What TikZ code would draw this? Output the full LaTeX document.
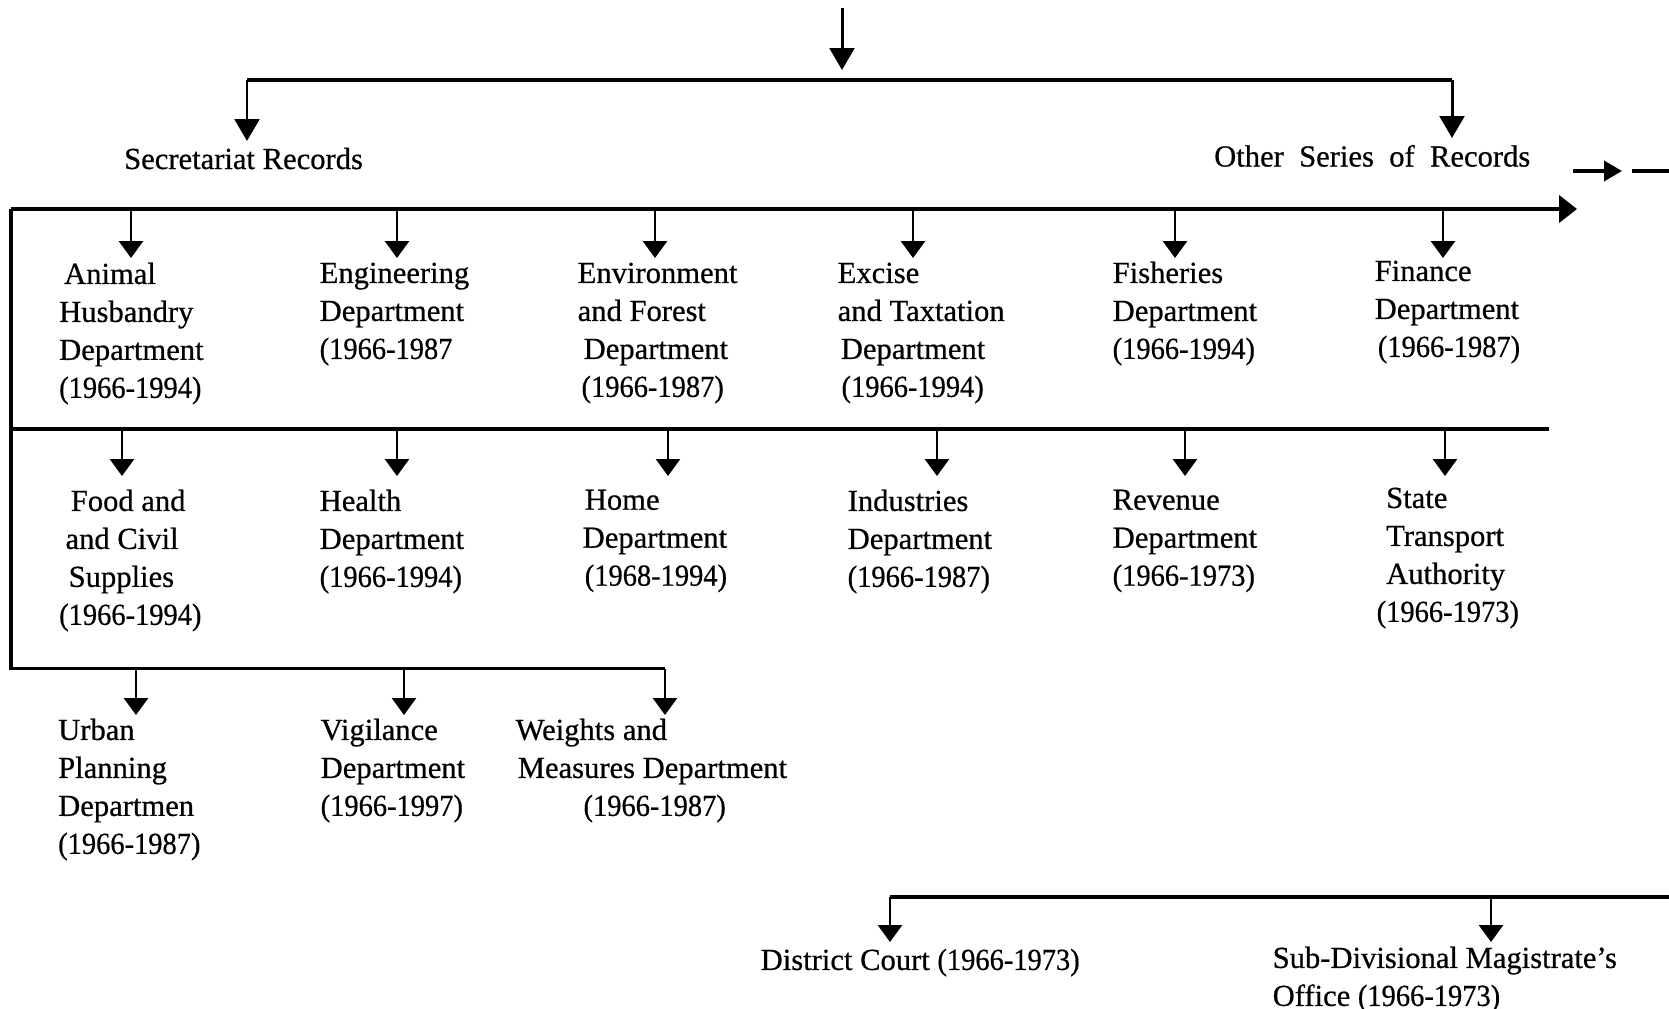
\documentclass[tikz,border=0pt]{standalone}
\usepackage{fontspec}
\setmainfont{Liberation Serif}[FakeBold=0.6]
\usetikzlibrary{arrows.meta}
\newcommand{\yr}[1]{\scalebox{0.93}[1]{#1}}
\begin{document}
\begin{tikzpicture}[x=0.01cm,y=-0.01cm,
  lbl/.style={inner sep=0pt, anchor=north west, align=left, font=\fontsize{8.7}{10.8}\selectfont},
  one/.style={inner sep=0pt, anchor=base west, font=\fontsize{8.7}{10.8}\selectfont},
  bus/.style={line width=1pt},
  drop/.style={line width=0.75pt, -{Triangle[length=4.8pt,width=6.8pt]}},
  bigdrop/.style={line width=0.85pt, -{Triangle[length=6.2pt,width=7pt]}},
  busarrow/.style={line width=1pt, -{Triangle[length=5.1pt,width=7.7pt]}},
  smallarrow/.style={line width=1pt, -{Triangle[length=5.1pt,width=5.7pt]}}]
\fill[white] (0,0) rectangle (1669,1009);
\useasboundingbox (0,0) rectangle (1669,1009);

% top level
\coordinate (src) at (842,8);
\coordinate (srcTip) at (842,70);
\coordinate (barL) at (247,80);
\coordinate (barR) at (1452,80);
\coordinate (secTip) at (247,141);
\coordinate (othTip) at (1452,138);
\draw[bigdrop] (src) -- (srcTip);
\draw[bus] (barL) -- (barR);
\draw[bigdrop] (barL) -- (secTip);
\draw[bigdrop] (barR) -- (othTip);

\node[one] (sec) at (123.5,169) {Secretariat Records};
\node[one] (oth) at (1213.5,166.5) {Other\hspace{0.5em}Series\hspace{0.5em}of\hspace{0.5em}Records};

% continuation mark
\coordinate (o1) at (1573,171);
\coordinate (o2) at (1622,171);
\coordinate (o3) at (1632,171);
\coordinate (o4) at (1669,171);
\draw[smallarrow] (o1) -- (o2);
\draw[bus] (o3) -- (o4);

% buses
\coordinate (b1L) at (11,209);
\coordinate (b1R) at (1577,209);
\coordinate (b2L) at (11,429);
\coordinate (b2R) at (1549,429);
\coordinate (b3L) at (11,668.5);
\coordinate (b3R) at (665,668.5);
\draw[busarrow] (b1L) -- (b1R);
\draw[bus] (b1L) -- (b3L) -- (b3R);
\draw[bus] (b2L) -- (b2R);

% row 1 drops
\foreach \x/\n in {131/a,397/b,655/c,913/d,1175/e,1443/f}{
  \coordinate (r1\n) at (\x,258);
  \draw[drop] (r1\n |- b1L) -- (r1\n);
}
% row 2 drops
\foreach \x/\n in {122/a,397/b,668/c,937/d,1185/e,1445/f}{
  \coordinate (r2\n) at (\x,476);
  \draw[drop] (r2\n |- b2L) -- (r2\n);
}
% row 3 drops
\foreach \x/\n in {136/a,404/b,665/c}{
  \coordinate (r3\n) at (\x,715);
  \draw[drop] (r3\n |- b3L) -- (r3\n);
}

% row 1 texts
\node[lbl] (n1a) at (58.5,262) {\hspace*{1.4pt}Animal\\Husbandry\\Department\\\yr{(1966-1994)}};
\node[lbl] (n1b) at (319,262) {Engineering\\Department\\\yr{(1966-1987}};
\node[lbl] (n1c) at (577,262) {Environment\\and Forest\\\hspace*{1.7pt}Department\\\hspace*{1.1pt}\yr{(1966-1987)}};
\node[lbl] (n1d) at (837,262) {Excise\\and Taxtation\\\hspace*{0.9pt}Department\\\hspace*{1.1pt}\yr{(1966-1994)}};
\node[lbl] (n1e) at (1112,261) {Fisheries\\Department\\\yr{(1966-1994)}};
\node[lbl] (n1f) at (1374,260) {Finance\\Department\\\hspace*{0.9pt}\yr{(1966-1987)}};

% row 2 texts
\node[lbl] (n2a) at (58.5,489) {\hspace*{3.3pt}Food and\\\hspace*{1.8pt}and Civil\\\hspace*{2.7pt}Supplies\\\yr{(1966-1994)}};
\node[lbl] (n2b) at (319,489) {Health\\Department\\\yr{(1966-1994)}};
\node[lbl] (n2c) at (582,489) {\hspace*{0.6pt}Home\\Department\\\hspace*{0.6pt}\yr{(1968-1994)}};
\node[lbl] (n2d) at (847,489) {Industries\\Department\\\yr{(1966-1987)}};
\node[lbl] (n2e) at (1112,489) {Revenue\\Department\\\yr{(1966-1973)}};
\node[lbl] (n2f) at (1376,487) {\hspace*{2.7pt}State\\\hspace*{2.7pt}Transport\\\hspace*{2.7pt}Authority\\\yr{(1966-1973)}};

% row 3 texts
\node[lbl] (n3a) at (57.5,718) {Urban\\Planning\\Departmen\\\yr{(1966-1987)}};
\node[lbl] (n3b) at (320,718) {Vigilance\\Department\\\yr{(1966-1997)}};
\node[lbl] (n3c) at (515,718) {Weights and\\\hspace*{0.6pt}Measures Department\\\hspace*{19.3pt}\yr{(1966-1987)}};

% bottom branch
\coordinate (b4L) at (890,897);
\coordinate (b4R) at (1669,897);
\coordinate (r4a) at (890,942);
\coordinate (r4b) at (1491,942);
\draw[bus] (b4L) -- (b4R);
\draw[drop] (b4L) -- (r4a);
\draw[drop] (r4b |- b4L) -- (r4b);
\node[lbl] (dc) at (760,948) {District Court \yr{(1966-1973)}};
\node[lbl] (sdm) at (1272,946) {Sub-Divisional Magistrate's\\Office \yr{(1966-1973)}};
\end{tikzpicture}
\end{document}
